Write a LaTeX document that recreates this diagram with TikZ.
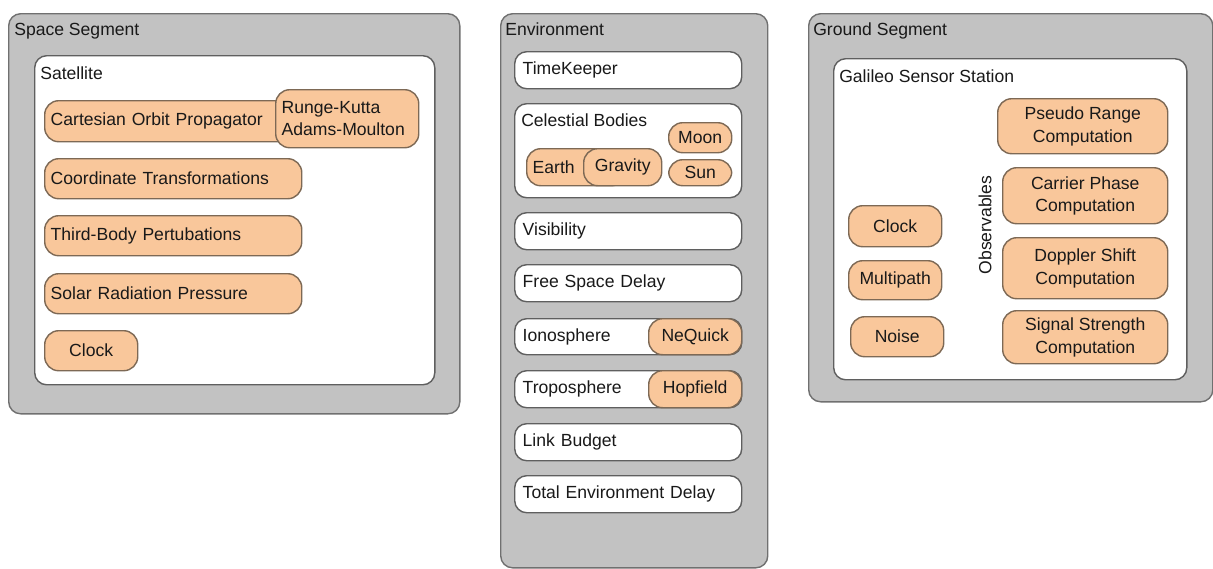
\documentclass[tikz,border=0pt]{standalone}
\usepackage{fontspec}
\setmainfont{Liberation Sans}
\usepackage{tikz}
\usetikzlibrary{positioning}
\definecolor{SegmentGray}{RGB}{194, 194, 194}
\definecolor{FrameGray}{RGB}{112, 112, 112}
\definecolor{PartOrange}{RGB}{249, 199, 155}
\definecolor{PartEdge}{RGB}{125, 105, 85}
\definecolor{TextDark}{RGB}{25, 25, 25}

\begin{document}
\begin{tikzpicture}[
        x=0.025cm, y=-0.025cm,
        every node/.style={font=\fontsize{12.5}{16}\selectfont, text=TextDark},
        segment/.style={draw=FrameGray, line width=1pt, fill=SegmentGray, rounded corners=0.3cm, anchor=north west},
        block/.style={draw=FrameGray!85!black, line width=1pt, fill=white, rounded corners=0.3cm, anchor=north west, inner xsep=0.2cm, inner ysep=2pt, align=left},
        part/.style={draw=PartEdge, line width=1pt, fill=PartOrange, rounded corners=0.35cm, anchor=north west, inner xsep=0.15cm, inner ysep=2pt, align=center},
        heading/.style={anchor=base west, inner sep=0pt}
    ]
    \useasboundingbox (0,0) rectangle (1213,568);

    % Space Segment
    \node[segment, minimum width=11.275cm, minimum height=10cm] (space) at (8,13) {};
    \node[heading] (spacehead) at (14,35) {Space Segment};
    \node[block, minimum width=10cm, minimum height=8.225cm] (sat) at (34,55) {};
    \node[heading] (sathead) at (40,79) {Satellite};

    \node[part, text width=6.1cm, align=left, minimum height=1.025cm] (orbit) at (44,100) {Cartesian Orbit Propagator};
    \node[part, text width=3.275cm, align=left, minimum height=1.45cm] (rk) at (275,89) {Runge-Kutta\\Adams-Moulton};
    \node[part, text width=6.125cm, align=left, minimum height=1cm] (coord) at (44,158) {Coordinate Transformations};
    \node[part, text width=6.125cm, align=left, minimum height=1cm] (third) at (44,215) {Third-Body Pertubations};
    \node[part, text width=6.125cm, align=left, minimum height=1cm] (srp) at (44,273) {Solar Radiation Pressure};
    \node[part, minimum width=2.325cm, minimum height=1cm] (satclock) at (44,330) {Clock};

    % Environment
    \node[segment, minimum width=6.675cm, minimum height=13.85cm] (env) at (500,13) {};
    \node[heading] (envhead) at (505,35) {Environment};

    \node[block, text width=5.275cm, minimum height=0.925cm] (time) at (514,51) {TimeKeeper};
    \node[block, minimum width=5.675cm, minimum height=2.35cm] (bodies) at (514,103) {};
    \node[heading] (bodieshead) at (521,126) {Celestial Bodies};
    \node[part, text width=2.175cm, align=left, minimum height=0.925cm] (earth) at (526,148) {Earth};
    \node[part, minimum width=1.95cm, minimum height=0.925cm] (gravity) at (583,148) {Gravity};
    \node[part, minimum width=1.575cm, minimum height=0.75cm] (moon) at (668,122) {Moon};
    \node[part, minimum width=1.575cm, minimum height=0.65cm] (sun) at (668,159) {Sun};

    \node[block, text width=5.275cm, minimum height=0.925cm] (vis) at (514,212) {Visibility};
    \node[block, text width=5.275cm, minimum height=0.925cm] (fsd) at (514,264) {Free Space Delay};
    \node[block, text width=5.275cm, minimum height=0.9cm] (iono) at (514,318) {Ionosphere};
    \node[part, minimum width=2.325cm, minimum height=0.9cm] (nequick) at (648,318) {NeQuick};
    \node[block, text width=5.275cm, minimum height=0.925cm] (tropo) at (514,370) {Troposphere};
    \node[part, minimum width=2.325cm, minimum height=0.925cm] (hopfield) at (648,370) {Hopfield};
    \node[block, text width=5.275cm, minimum height=0.925cm] (link) at (514,423) {Link Budget};
    \node[block, text width=5.275cm, minimum height=0.925cm] (total) at (514,475) {Total Environment Delay};

    % Ground Segment
    \node[segment, minimum width=10.1cm, minimum height=9.7cm] (ground) at (808,13) {};
    \node[heading] (groundhead) at (813,35) {Ground Segment};
    \node[block, minimum width=8.825cm, minimum height=8.025cm] (gss) at (833,58) {};
    \node[heading] (gsshead) at (839,82) {Galileo Sensor Station};

    \node[part, minimum width=4.25cm, minimum height=1.375cm] (pseudo) at (997,98) {Pseudo Range\\Computation};
    \node[part, minimum width=4.125cm, minimum height=1.4cm] (carrier) at (1002,167) {Carrier Phase\\Computation};
    \node[part, minimum width=4.125cm, minimum height=1.525cm] (doppler) at (1002,237) {Doppler Shift\\Computation};
    \node[part, minimum width=4.125cm, minimum height=1.325cm] (signal) at (1002,310) {Signal Strength\\Computation};
    \node[rotate=90] (obs) at (985,225) {Observables};

    \node[part, minimum width=2.325cm, minimum height=1.025cm] (gclock) at (848,205) {Clock};
    \node[part, minimum width=2.325cm, minimum height=0.975cm] (multipath) at (848,260) {Multipath};
    \node[part, minimum width=2.325cm, minimum height=1cm] (noise) at (850,316) {Noise};

\end{tikzpicture}
\end{document}
